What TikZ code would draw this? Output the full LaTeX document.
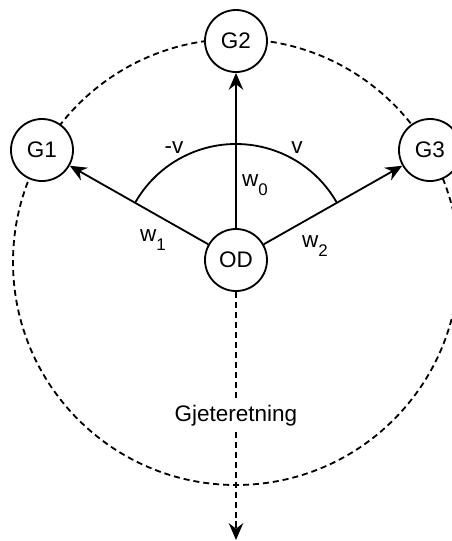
\documentclass[tikz,border=0pt]{standalone}
\usepackage{fontspec}
\setmainfont{Liberation Sans}
\usetikzlibrary{arrows.meta}

% w with a lowered index
\newcommand{\wsub}[1]{w\raisebox{-6pt}{\fontsize{12}{12}\selectfont #1}}

\begin{document}
\begin{tikzpicture}[
  font=\fontsize{16}{18}\selectfont,
  line width=1.3pt,
  punkt/.style={circle, draw, fill=white, minimum size=1.55cm, inner sep=0pt},
  stiplet/.style={dash pattern=on 4.3pt off 2.8pt},
  pil/.style={-{Stealth[length=4.2mm,width=3.6mm]}}
]
\useasboundingbox (-5.9,-7.025) rectangle (5.4,6.5);

% dashed circle through the goals
\draw[stiplet] (0,-0.05) circle (5.575);

\node[punkt](OD) at (0,0) {OD};
\node[punkt](G1) at (-4.85,2.75) {G1};
\node[punkt](G2) at (0,5.475) {G2};
\node[punkt](G3) at (4.85,2.75) {G3};

\draw[pil] (OD) -- (G1);
\draw[pil] (OD) -- (G2);
\draw[pil] (OD) -- (G3);

% angle between the outer arrows
\draw (30:2.9) arc (30:150:2.9);
\node(mv) at (-1.55,2.8) {-v};
\node(v) at (1.525,2.8) {v};

\node(w0) at (0.475,1.875) {\wsub{0}};
\node(w1) at (-2.075,0.5) {\wsub{1}};
\node(w2) at (1.975,0.35) {\wsub{2}};

% direction straight back
\coordinate (ned) at (0,-7.0);
\draw[stiplet, pil] (OD) -- node[fill=white, inner sep=2.5pt](gj) {Gjeteretning} (ned);

\end{tikzpicture}
\end{document}
